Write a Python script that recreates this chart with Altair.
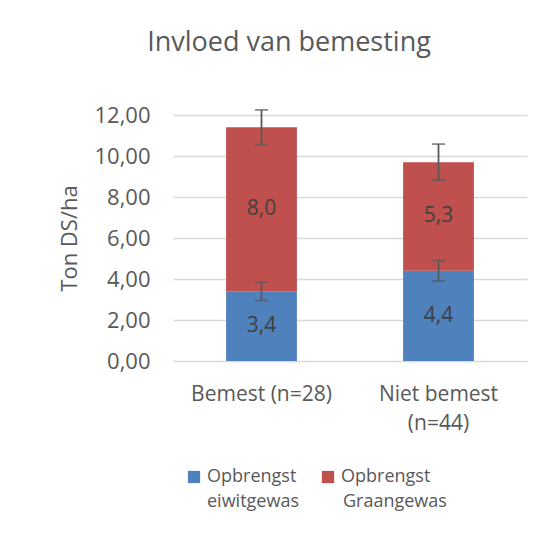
import altair as alt
import pandas as pd

# ---- data ----
categories = ["Bemest (n=28)", "Niet bemest\n(n=44)"]
series = ["Opbrengst eiwitgewas", "Opbrengst Graangewas"]
eiwit = [3.4, 4.4]
graan = [8.0, 5.3]
eiwit_err = [0.45, 0.50]
graan_err = [0.85, 0.88]
y_ticks = [0, 2, 4, 6, 8, 10, 12]
colors = ["#4F81BD", "#C0504D"]

# second line of each (wrapped) legend label
series_line2 = [s.split(" ", 1)[1] for s in series]

rows = []
for i, cat in enumerate(categories):
    base_val = 0.0
    for j, (vals, errs) in enumerate([(eiwit, eiwit_err), (graan, graan_err)]):
        v = vals[i]
        top = base_val + v
        rows.append({
            "cat": cat, "series": series[j], "series_line2": series_line2[j],
            "idx": j, "value": v, "mid": base_val + v / 2, "top": top,
            "lo": top - errs[i], "hi": top + errs[i],
        })
        base_val = top
df = pd.DataFrame(rows)

FONT = "Open Sans"
GREY = "#595959"
LEG_X, LEG_Y, LEG_LINE = 12, 353, 25
LEG_OFFSET, LEG_COLPAD = 4, 22

x_enc = alt.X(
    "cat:N", sort=categories,
    scale=alt.Scale(paddingInner=0.6, paddingOuter=0.3),
    axis=alt.Axis(
        title=None, labelAngle=0, labelExpr="split(datum.label, '\\n')",
        labelFontSize=21, labelColor=GREY, labelFont=FONT, labelLineHeight=29,
        labelPadding=22, ticks=False, domain=False, grid=False, labelLimit=300,
    ),
)
y_scale = alt.Scale(domain=[0, 12], nice=False)

base = alt.Chart(df)

bars = base.mark_bar().encode(
    x=x_enc,
    y=alt.Y(
        "value:Q", stack="zero", scale=y_scale,
        axis=alt.Axis(
            title="Ton DS/ha", values=y_ticks,
            labelExpr="replace(format(datum.value, '.2f'), '.', ',')",
            labelFontSize=22, labelColor=GREY, labelFont=FONT, labelPadding=23,
            titleFontSize=22, titleColor=GREY, titleFont=FONT,
            titleFontWeight="normal", titlePadding=12,
            ticks=False, domain=False, gridColor="#D9D9D9", gridWidth=1.3,
        ),
    ),
    color=alt.Color(
        "series:N", scale=alt.Scale(domain=series, range=colors),
        legend=alt.Legend(
            title=None, orient="none", legendX=LEG_X, legendY=LEG_Y,
            direction="horizontal", symbolType="square", symbolSize=150,
            symbolStrokeWidth=0, labelFontSize=18, labelColor=GREY,
            labelFont=FONT, labelExpr="split(datum.label, ' ')[0]",
            labelOffset=LEG_OFFSET, columnPadding=LEG_COLPAD, labelLimit=300,
        ),
    ),
    order=alt.Order("idx:Q"),
)

# second line of the legend labels (symbols hidden)
legend_line2 = base.mark_point(opacity=0).encode(
    x=alt.X("cat:N", sort=categories),
    y=alt.Y("top:Q", scale=y_scale),
    shape=alt.Shape(
        "series_line2:N",
        scale=alt.Scale(domain=series_line2, range=["square", "square"]),
        legend=alt.Legend(
            title=None, orient="none", legendX=LEG_X, legendY=LEG_Y + LEG_LINE,
            direction="horizontal", symbolSize=150, symbolOpacity=0,
            symbolStrokeWidth=0, labelFontSize=18,
            labelColor=GREY, labelFont=FONT,
            labelOffset=LEG_OFFSET, columnPadding=LEG_COLPAD, labelLimit=300,
        ),
    ),
)

labels = base.mark_text(fontSize=21, color="#404040", font=FONT).encode(
    x=alt.X("cat:N", sort=categories),
    y=alt.Y("mid:Q", scale=y_scale),
    text=alt.Text("lbl:N"),
).transform_calculate(lbl="replace(format(datum.value, '.1f'), '.', ',')")

err_rule = base.mark_rule(color=GREY, strokeWidth=1.8).encode(
    x=alt.X("cat:N", sort=categories),
    y=alt.Y("lo:Q", scale=y_scale),
    y2="hi:Q",
)
err_lo = base.mark_tick(color=GREY, size=13, thickness=1.8).encode(
    x=alt.X("cat:N", sort=categories),
    y=alt.Y("lo:Q", scale=y_scale),
)
err_hi = base.mark_tick(color=GREY, size=13, thickness=1.8).encode(
    x=alt.X("cat:N", sort=categories),
    y=alt.Y("hi:Q", scale=y_scale),
)

chart = alt.layer(bars, legend_line2, labels, err_rule, err_lo, err_hi).properties(
    width=354, height=246,
    title=alt.Title(
        "Invloed van bemesting", fontSize=27, color=GREY, font=FONT,
        fontWeight="normal", offset=47, dx=-61, anchor="middle",
    ),
    autosize="none",
    padding={"left": 165, "top": 107, "right": 2, "bottom": 170},
).configure_view(stroke=None)

chart.save("out.html", embed_options={"renderer": "svg", "actions": False})
